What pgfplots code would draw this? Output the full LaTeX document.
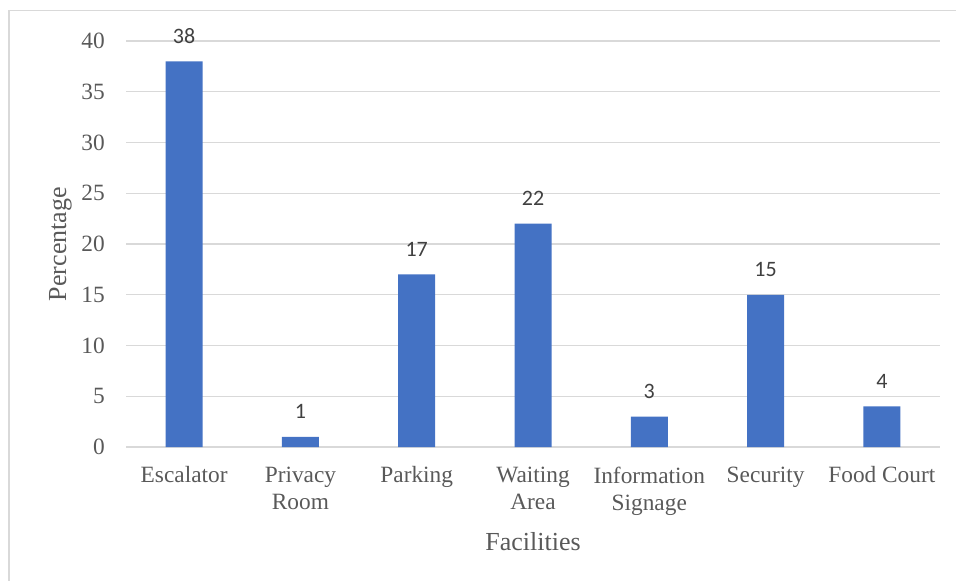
\documentclass[border=0pt]{standalone}
\usepackage{pgfplots}
\pgfplotsset{compat=1.18}
\usepackage{fontspec}
\setmainfont{Liberation Serif}
\newfontfamily\calibri{Carlito}

\definecolor{barblue}{HTML}{4472C4}
\definecolor{gridgray}{HTML}{D9D9D9}
\definecolor{txtgray}{HTML}{595959}
\definecolor{valgray}{HTML}{404040}

\begin{document}
\begin{tikzpicture}
% page is 956x581 px, 1px = 0.75pt
\useasboundingbox (0,0) rectangle (717pt,-435.75pt);
% outer chart frame (left and top edges visible)
\draw[gridgray, line width=1.2pt] (6.6pt,-435.75pt) -- (6.6pt,-7.8pt) -- (717pt,-7.8pt);

\begin{axis}[
    at={(94.5pt,-335.25pt)}, anchor=south west,
    scale only axis,
    width=610.5pt, height=304.5pt,
    ybar, bar width=27.75pt,
    xmin=-0.5, xmax=6.5,
    ymin=0, ymax=40,
    ytick={0,5,...,40},
    xtick=data,
    xticklabels={Escalator, {Privacy\\Room}, Parking, {Waiting\\Area}, {Information\\Signage}, Security, Food Court},
    major tick length=0pt,
    axis line style={draw=none},
    ymajorgrids,
    grid style={gridgray, line width=0.9pt},
    /pgf/number format/assume math mode=true,
    tick label style={font=\fontsize{17.5}{20.25}\selectfont, text=txtgray, inner sep=0pt},
    yticklabel style={anchor=east, xshift=-15.75pt},
    xticklabel style={anchor=north, align=center, yshift=-14.5pt},
    label style={font=\fontsize{19.5}{22}\selectfont, text=txtgray, inner sep=0pt},
    xlabel={Facilities},
    ylabel={Percentage},
    xlabel style={at={(axis description cs:0.5,-0.2094)}, anchor=north},
    ylabel style={at={(axis description cs:-0.0663,0.5)}, anchor=south},
    nodes near coords,
    every node near coord/.append style={font=\calibri\fontsize{16.5}{18}\selectfont, text=valgray, anchor=base, yshift=13.5pt, inner sep=0pt},
]
\addplot[fill=barblue, draw=none] coordinates {
    (0,38)
    (1,1)
    (2,17)
    (3,22)
    (4,3)
    (5,15)
    (6,4)
};
\end{axis}
\end{tikzpicture}
\end{document}
